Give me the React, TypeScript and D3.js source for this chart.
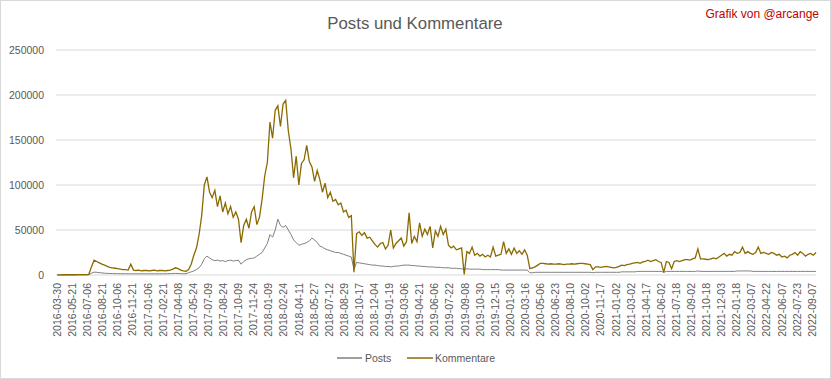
import React from "react";
import * as d3 from "d3";

const W = 831;
const H = 379;
const STEP = 8; // categories between samples

const xLabels = [
  "2016-03-30","2016-05-21","2016-07-06","2016-08-21","2016-10-06","2016-11-21",
  "2017-01-06","2017-02-21","2017-04-08","2017-05-24","2017-07-09","2017-08-24","2017-10-09","2017-11-24",
  "2018-01-09","2018-02-24","2018-04-11","2018-05-27","2018-07-12","2018-08-29","2018-10-17","2018-12-04",
  "2019-01-19","2019-03-06","2019-04-21","2019-06-06","2019-07-22","2019-09-08","2019-10-30","2019-12-15",
  "2020-01-30","2020-03-16","2020-05-06","2020-06-23","2020-08-10","2020-10-02","2020-11-17",
  "2021-01-02","2021-03-02","2021-04-17","2021-06-02","2021-07-18","2021-09-02","2021-10-18","2021-12-03",
  "2022-01-18","2022-03-07","2022-04-22","2022-06-07","2022-07-23","2022-09-07"
];
const LABEL_EVERY = 46;

const yTicks = [0, 50000, 100000, 150000, 200000, 250000];

// values in thousands, one sample every STEP categories
const kommentare = [
  0.2,0.2,0.3,0.3,0.3,0.3,0.3,0.3,0.4,0.4,
  0.5,0.5,0.8,9,16.5,15,13.5,12,11,9.5,
  8.5,8,7.5,7,6.5,6,6,5.5,12,5.5,
  5,5.5,4.5,5,5,4.5,5,5.5,4.5,5,
  5,4.5,5,5.5,6.5,8,7,5.5,4.5,4,
  6,12,22,30,45,66,100,109,92,86,
  94,76,88,70,80,68,76,64,70,62,
  36,55,62,52,70,76,56,64,84,110,
  125,170,152,183,188,165,190,194,160,140,
  108,132,100,124,128,144,126,120,104,116,
  106,92,102,86,92,82,84,78,80,70,
  72,64,66,3,46,48,44,47,41,42,
  38,34,31,35,36,29,33,50,30,35,
  38,41,32,37,69,35,43,37,58,43,
  51,45,54,30,49,43,54,45,51,33,
  30,32,28,29,30,0.5,26,24,31,22,
  24,21,23,20,22,20,31,21,22,23,
  37,24,29,23,30,24,27,23,28,22,
  7,8,9,11,13,13,12.5,12,12.5,12,
  12,12.5,12,11.5,12,12,12.5,12,12.5,13,
  13,12.5,12,11.5,6,9,9,8.5,9,9.5,
  9,8.5,8,8.5,9.5,11,10.5,11.5,12,13,
  13.5,14,13,14.5,15,16.5,15,16,17,15,
  14,3,15,14,7,15,16,15,16,17,
  17,16.5,18,19,29,18,18,17.5,17,18,
  19,18,20,22,24,21,23,22,26,24,
  25,31,24,26,24,23,25,31,24,25,
  24,23,25,24,22,23,20,21,19,22,
  23,25,22,26,24,21,23,24,22,25
];

const posts = [
  0.1,0.1,0.1,0.1,0.1,0.1,0.1,0.1,0.1,0.1,
  0.1,0.1,0.3,2,3.2,3,2.6,2.3,2,1.8,
  1.7,1.6,1.5,1.5,1.4,1.4,1.4,1.3,1.3,1.4,
  1.3,1.4,1.3,1.3,1.2,1.3,1.3,1.2,1.3,1.3,
  1.3,1.4,1.4,1.5,1.6,1.8,1.7,1.5,1.4,1.5,
  2.5,3.5,4.5,6,8,12,18,21,19,17,
  16,16.5,15.5,16,15,16,16.5,15.5,16,16.5,
  12,15,17,18,18.5,19,21,23,25,30,
  35,45,42,50,62,55,53,55,50,45,
  39,36,33,34,35,36,38,41,39,36,
  32,31,29,28,27,26,25,25,24,23,
  22,21,20,6,14,13.5,13,12.5,12,11.5,
  11,11,10.5,10,10,9.5,9.5,9,9.5,10,
  10,10.5,11,11,11,10.5,10.5,10,10,9.5,
  9.5,9,9,9,8.5,8.5,8.5,8,8,8,
  7.5,7.5,7.5,7,7,6,7,6.5,6.5,6.5,
  6.5,6.5,6,6,6,6,6,6,6,5.5,
  5.5,5.5,5.5,5.5,5.5,5.5,5.5,5.5,5.5,5.5,
  2.5,2.5,3,3,3,3,3,3,3,3,
  3,3,3,3,3,3,3,3,3,3,
  3,3,3,3,2.5,3,3,3,3,3,
  3,3,3,3,3,3.5,3.5,3.5,3.5,3.5,
  3.5,4,4,4,4,4,4,4,4,4,
  4,3,4,4,4,4,4,4,4,4,
  4,4,4,4,4.5,4,4,4,4,4,
  4,4,4,4,4,4,4,4,4,4.5,
  4.5,4.5,4.5,4.5,4.5,4,4,4,4,4,
  4,4,4,4,4,4,4,4,4,4,
  4,4,4,4,4,4,4,4,4,4
];

const FONT = "'Liberation Sans', Arial, sans-serif";
const TEXT = "#595959";
const POSTS_COLOR = "#7f7f7f";
const KOMM_COLOR = "#8a6a00";

export default function App() {
  const x = d3.scaleLinear().domain([-4, 2312]).range([56, 816]);
  const y = d3.scaleLinear().domain([0, 250000]).range([275, 50]);
  const line = d3
    .line<number>()
    .x((_, i) => x(i * STEP))
    .y((d) => y(d * 1000));

  return (
    <svg
      width={W}
      height={H}
      style={{ position: "absolute", left: 0, top: 0, background: "#fff" }}
      fontFamily={FONT}
    >
      <rect x={0.5} y={0.5} width={W - 1} height={H - 1} fill="#fff" stroke="#d9d9d9" />
      <text x={415} y={29} textAnchor="middle" fontSize={16.8} fill={TEXT}>
        Posts und Kommentare
      </text>
      <text x={819} y={18} textAnchor="end" fontSize={12} fill="#c00000">
        Grafik von @arcange
      </text>
      {yTicks.map((t) => (
        <g key={t}>
          <line x1={56} x2={816} y1={y(t)} y2={y(t)} stroke="#d9d9d9" strokeWidth={1} />
          <text x={44} y={y(t)} dy="0.35em" textAnchor="end" fontSize={10.5} fill={TEXT}>
            {t}
          </text>
        </g>
      ))}
      {xLabels.map((l, i) => (
        <text
          key={l}
          transform={`translate(${x(i * LABEL_EVERY)},283) rotate(-90)`}
          dy="0.35em"
          textAnchor="end"
          fontSize={10.5}
          fill={TEXT}
        >
          {l}
        </text>
      ))}
      <path d={line(posts) || ""} fill="none" stroke={POSTS_COLOR} strokeWidth={1} />
      <path d={line(kommentare) || ""} fill="none" stroke={KOMM_COLOR} strokeWidth={1.3} />
      <g>
        <line x1={337} x2={362} y1={358} y2={358} stroke={POSTS_COLOR} strokeWidth={1.5} />
        <text x={365} y={358} dy="0.35em" fontSize={10.5} fill={TEXT}>Posts</text>
        <line x1={407} x2={433} y1={358} y2={358} stroke={KOMM_COLOR} strokeWidth={1.5} />
        <text x={435} y={358} dy="0.35em" fontSize={10.5} fill={TEXT}>Kommentare</text>
      </g>
    </svg>
  );
}
